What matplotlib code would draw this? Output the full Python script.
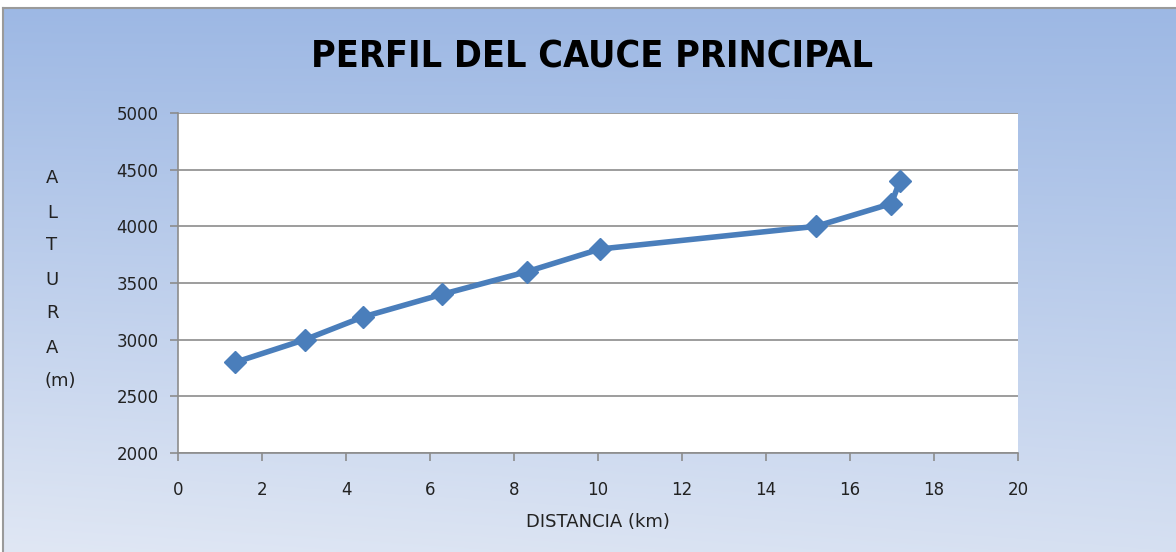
import numpy as np
import matplotlib
matplotlib.use("Agg")
import matplotlib.pyplot as plt
from matplotlib.lines import Line2D

distancia_km = [1.36, 3.02, 4.4, 6.29, 8.31, 10.05, 15.19, 16.98, 17.19]
altura_m = [2800, 3000, 3200, 3400, 3600, 3800, 4000, 4200, 4400]
x_ticks = list(range(0, 21, 2))
y_ticks = list(range(2000, 5001, 500))
title = "PERFIL DEL CAUCE PRINCIPAL"
xlabel = "DISTANCIA (km)"
ylabel_letters = ["A", "L", "T", "U", "R", "A", "(m)"]

W, H = 1176, 552
fig = plt.figure(figsize=(W / 100, H / 100), dpi=100)
fig.patch.set_facecolor("white")

# background gradient panel
bg = fig.add_axes([3 / W, 0, 1 - 3 / W, (H - 8) / H])
bg.set_axis_off()
ny, nx = 200, 300
yy, xx = np.mgrid[0:1:ny * 1j, 0:1:nx * 1j]
top = np.array([157, 184, 228]) / 255
bot = np.array([224, 231, 244]) / 255
t = np.clip(yy * 0.85 + (1 - xx) * 0.15 * yy, 0, 1)
img = top[None, None, :] * (1 - t[..., None]) + bot[None, None, :] * t[..., None]
bg.imshow(img, aspect="auto", extent=[0, 1, 1, 0])
bg.set_xlim(0, 1)
bg.set_ylim(1, 0)
# frame
fig.add_artist(Line2D([3 / W, 1], [(H - 8) / H, (H - 8) / H], color="#9a9a9a", lw=1.5))
fig.add_artist(Line2D([3 / W, 3 / W], [0, (H - 8) / H], color="#9a9a9a", lw=1.5))

ax = fig.add_axes([178 / W, (H - 453) / H, (1018 - 178) / W, (453 - 113) / H])
ax.set_facecolor("white")
ax.plot(distancia_km, altura_m, color="#4A7EBB", lw=4, marker="D", ms=11,
        markerfacecolor="#4A7EBB", markeredgecolor="#4A7EBB", zorder=3)
ax.set_xlim(0, 20)
ax.set_ylim(2000, 5000)
ax.set_xticks(x_ticks)
ax.set_yticks(y_ticks)
ax.grid(axis="y", color="#8c8c8c", lw=1.2)
ax.set_axisbelow(True)
for s in ["top", "right"]:
    ax.spines[s].set_visible(False)
for s in ["left", "bottom"]:
    ax.spines[s].set_color("#8c8c8c")
    ax.spines[s].set_linewidth(1.2)
ax.tick_params(direction="out", length=6, color="#8c8c8c", width=1.2,
               labelsize=12, labelcolor="#222222")
ax.tick_params(axis="x", pad=14)
ax.tick_params(axis="y", pad=8)
ax.set_xlabel(xlabel, fontsize=13, color="#222222", labelpad=10)

fig.text(592 / W, 1 - 57 / H, title, ha="center", va="center", fontsize=27,
         fontweight="bold",
         family=["Liberation Sans Narrow", "DejaVu Sans"], stretch="condensed",
         color="black")

ys = [178, 213, 245, 280, 313, 348, 381]
for lab, y in zip(ylabel_letters, ys):
    fig.text(52 / W if lab != "(m)" else 60 / W, 1 - y / H, lab, ha="center", va="center",
             fontsize=13, color="#222222")

fig.savefig("out.png", dpi=100, facecolor=fig.get_facecolor())
